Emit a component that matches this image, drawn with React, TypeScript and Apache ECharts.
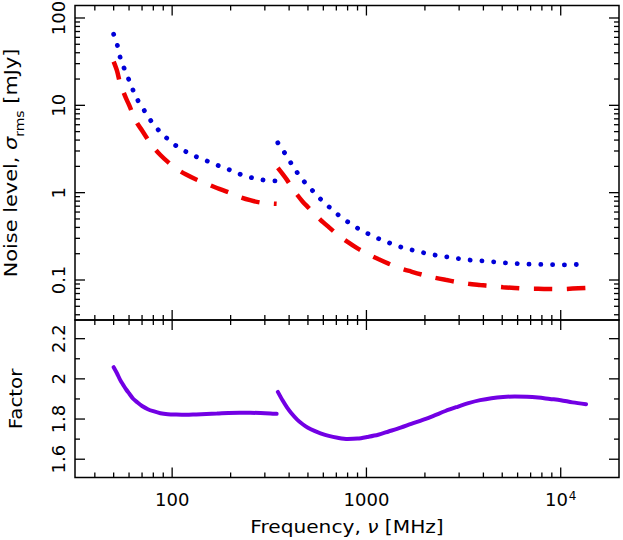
import React, { useEffect, useRef } from 'react';
import * as echarts from 'echarts';

// Below the gap (50-345 MHz)
const freqLow = [50, 52, 54, 56, 58, 60, 63, 66, 70, 75, 80, 87, 95, 105, 118, 133, 150, 170, 195, 222, 252, 285, 320, 345];
const blueLow = [65, 50.5, 35.5, 28.3, 23.2, 19.4, 14.8, 11.8, 9.6, 7.5, 6.1, 4.93, 4.11, 3.43, 2.94, 2.58, 2.32, 2.07, 1.85, 1.64, 1.5, 1.41, 1.375, 1.36];
const redLow = [31.6, 24.9, 17.8, 14.4, 11.9, 10.1, 7.8, 6.26, 5.15, 4.06, 3.32, 2.7, 2.25, 1.88, 1.61, 1.415, 1.27, 1.13, 1.01, 0.896, 0.82, 0.77, 0.752, 0.745];
const factorLow = [2.058, 2.028, 1.995, 1.97, 1.947, 1.928, 1.901, 1.884, 1.865, 1.849, 1.839, 1.829, 1.824, 1.822, 1.821, 1.823, 1.825, 1.827, 1.83, 1.831, 1.831, 1.83, 1.828, 1.826];

// Above the gap (350-13500 MHz)
const freqHigh = [350, 370, 390, 410, 440, 470, 500, 540, 580, 640, 710, 800, 900, 1010, 1150, 1300, 1500, 1700, 1950, 2200, 2550, 2900, 3350, 3850, 4400, 5050, 5800, 6700, 7650, 8800, 10000, 11500, 13500];
const blueHigh = [3.72, 3.1, 2.6, 2.16, 1.7, 1.4, 1.2, 1.0, 0.845, 0.692, 0.565, 0.464, 0.392, 0.342, 0.299, 0.268, 0.239, 0.222, 0.206, 0.195, 0.185, 0.177, 0.17, 0.166, 0.162, 0.158, 0.155, 0.152, 0.151, 0.15, 0.149, 0.15, 0.152];
const redHigh = [1.92, 1.64, 1.4, 1.18, 0.946, 0.789, 0.683, 0.574, 0.489, 0.403, 0.331, 0.273, 0.23, 0.2, 0.174, 0.154, 0.136, 0.125, 0.1147, 0.1074, 0.1005, 0.0952, 0.0905, 0.0876, 0.0851, 0.0827, 0.0811, 0.0795, 0.0792, 0.0789, 0.0787, 0.0797, 0.0811];
const factorHigh = [1.935, 1.893, 1.858, 1.83, 1.797, 1.774, 1.757, 1.741, 1.729, 1.716, 1.707, 1.701, 1.703, 1.711, 1.722, 1.738, 1.757, 1.776, 1.796, 1.815, 1.84, 1.859, 1.879, 1.894, 1.904, 1.91, 1.912, 1.911, 1.907, 1.9, 1.894, 1.883, 1.874];

const freqMajor = [100, 1000, 10000];
const freqMinor = [40, 50, 60, 70, 80, 90, 200, 300, 400, 500, 600, 700, 800, 900, 2000, 3000, 4000, 5000, 6000, 7000, 8000, 9000];
const noiseMajor = [0.1, 1, 10, 100];
const noiseMinor = [0.04, 0.05, 0.06, 0.07, 0.08, 0.09, 0.2, 0.3, 0.4, 0.5, 0.6, 0.7, 0.8, 0.9, 2, 3, 4, 5, 6, 7, 8, 9, 20, 30, 40, 50, 60, 70, 80, 90];
const factorMajor = [1.6, 1.8, 2, 2.2];
const factorMinor = [1.7, 1.9, 2.1];

const FONT = 'DejaVu Sans';
const INK = '#000';
const LEFT = 75;
const WIDTH = 544;
const MAJOR_LEN = 10;
const MINOR_LEN = 5;

const pairs = (xs: number[], ys: number[]) => xs.map((x, i) => [x, ys[i]]);

// inward tick marks on two opposite edges of a grid, placed through the axis scale
function tickSeries(gridIndex: number, dir: 'x' | 'y', major: number[], minor: number[], ref: number) {
  const values = [...major, ...minor];
  const data = values.map((v) => (dir === 'x' ? [v, ref] : [ref, v]));
  return {
    type: 'custom', coordinateSystem: 'cartesian2d', xAxisIndex: gridIndex, yAxisIndex: gridIndex,
    data, silent: true, z: 5, clip: false,
    renderItem: (params: any, api: any) => {
      const cs = params.coordSys;
      const len = params.dataIndex < major.length ? MAJOR_LEN : MINOR_LEN;
      const p = api.coord([api.value(0), api.value(1)]);
      const style = { stroke: INK, lineWidth: 1.3, fill: 'none' };
      if (dir === 'x') {
        const x = p[0];
        const b = cs.y + cs.height;
        return {
          type: 'group',
          children: [
            { type: 'line', shape: { x1: x, y1: b, x2: x, y2: b - len }, style },
            { type: 'line', shape: { x1: x, y1: cs.y, x2: x, y2: cs.y + len }, style },
          ],
        };
      }
      const y = p[1];
      const r = cs.x + cs.width;
      return {
        type: 'group',
        children: [
          { type: 'line', shape: { x1: cs.x, y1: y, x2: cs.x + len, y2: y }, style },
          { type: 'line', shape: { x1: r, y1: y, x2: r - len, y2: y }, style },
        ],
      };
    },
  };
}

export default function App() {
  const ref = useRef<HTMLDivElement | null>(null);

  useEffect(() => {
    document.body.style.margin = '0';
    if (!ref.current) return;
    const chart = echarts.init(ref.current, undefined, { renderer: 'svg' });

    const hidden = { axisLine: { show: false }, axisTick: { show: false }, splitLine: { show: false } };
    const xBase = { type: 'log', logBase: 10, min: Math.pow(10, 1.5), max: Math.pow(10, 4.3), ...hidden };

    const yLabel = {
      show: true, rotate: 90, margin: 8, color: INK, fontFamily: FONT, fontSize: 18, lineHeight: 18,
      formatter: (v: number) => String(v),
    };

    const line = (name: string, gi: number, data: number[][], lineStyle: any) => ({
      name, type: 'line', xAxisIndex: gi, yAxisIndex: gi, data, symbol: 'none', smooth: 0.3,
      lineStyle, silent: true, z: 3,
    });
    const dotted = { color: '#0000d8', width: 4.8, type: [0.1, 11.7], cap: 'round' };
    const dashed = { color: '#ee0000', width: 4.5, type: [18.5, 14.5], cap: 'butt' };
    const solid = { color: '#7200e4', width: 4, cap: 'round' };

    chart.setOption({
      animation: false,
      backgroundColor: '#fff',
      grid: [
        { left: LEFT, top: 5.5, width: WIDTH, height: 314.5, show: true, borderColor: INK, borderWidth: 1.5, backgroundColor: 'transparent', outerBoundsMode: 'none' },
        { left: LEFT, top: 320, width: WIDTH, height: 157.5, show: true, borderColor: INK, borderWidth: 1.5, backgroundColor: 'transparent', outerBoundsMode: 'none' },
      ],
      xAxis: [
        { ...xBase, gridIndex: 0, axisLabel: { show: false } },
        {
          ...xBase, gridIndex: 1, position: 'bottom',
          axisLabel: {
            show: true, margin: 12, customValues: freqMajor, color: INK, fontFamily: FONT, fontSize: 18, lineHeight: 20,
            formatter: (v: number) => (v >= 10000 ? '{n|10}{sup|4}' : '{n|' + v + '}'),
            rich: {
              n: { fontFamily: FONT, fontSize: 18, lineHeight: 20, color: INK },
              sup: { fontFamily: FONT, fontSize: 12, lineHeight: 12, verticalAlign: 'top', color: INK, padding: [0, 0, 0, 1] },
            },
          },
        },
      ],
      yAxis: [
        {
          type: 'log', logBase: 10, gridIndex: 0, min: Math.pow(10, -1.458), max: Math.pow(10, 2.143), ...hidden,
          axisLabel: { ...yLabel, customValues: noiseMajor },
        },
        {
          type: 'value', gridIndex: 1, min: 1.509, max: 2.293, ...hidden,
          axisLabel: { ...yLabel, customValues: factorMajor },
        },
      ],
      series: [
        line('rms low', 0, pairs(freqLow, blueLow), dotted),
        line('rms high', 0, pairs(freqHigh, blueHigh), dotted),
        line('fit low', 0, pairs(freqLow, redLow), dashed),
        line('fit high', 0, pairs(freqHigh, redHigh), dashed),
        line('factor low', 1, pairs(freqLow, factorLow), solid),
        line('factor high', 1, pairs(freqHigh, factorHigh), solid),
        tickSeries(0, 'x', freqMajor, freqMinor, 1),
        tickSeries(0, 'y', noiseMajor, noiseMinor, 1000),
        tickSeries(1, 'x', freqMajor, freqMinor, 2),
        tickSeries(1, 'y', factorMajor, factorMinor, 1000),
      ],
      graphic: [
        {
          type: 'text', x: 11, y: 163, rotation: Math.PI / 2, scaleX: 1.16,
          style: {
            text: '{m|Noise level, }{g|σ}{s|rms}{m| [mJy]}',
            align: 'center', verticalAlign: 'middle',
            rich: {
              m: { fontFamily: FONT, fontSize: 18, lineHeight: 30, fill: INK },
              g: { fontFamily: FONT, fontSize: 18, lineHeight: 30, fontStyle: 'italic', fill: INK },
              s: { fontFamily: FONT, fontSize: 12, lineHeight: 6, verticalAlign: 'bottom', fill: INK },
            },
          },
        },
        {
          type: 'text', x: 15, y: 399, rotation: Math.PI / 2, scaleX: 1.1,
          style: { text: 'Factor', fontFamily: FONT, fontSize: 18, fill: INK, align: 'center', verticalAlign: 'middle' },
        },
        {
          type: 'text', x: 347, y: 527, scaleX: 1.12,
          style: {
            text: '{m|Frequency, }{g|ν}{m| [MHz]}',
            align: 'center', verticalAlign: 'middle',
            rich: {
              m: { fontFamily: FONT, fontSize: 18, fill: INK },
              g: { fontFamily: FONT, fontSize: 18, fontStyle: 'italic', fill: INK },
            },
          },
        },
      ],
    });

    return () => { chart.dispose(); };
  }, []);

  return <div ref={ref} style={{ width: 623, height: 540, background: '#fff' }} />;
}
